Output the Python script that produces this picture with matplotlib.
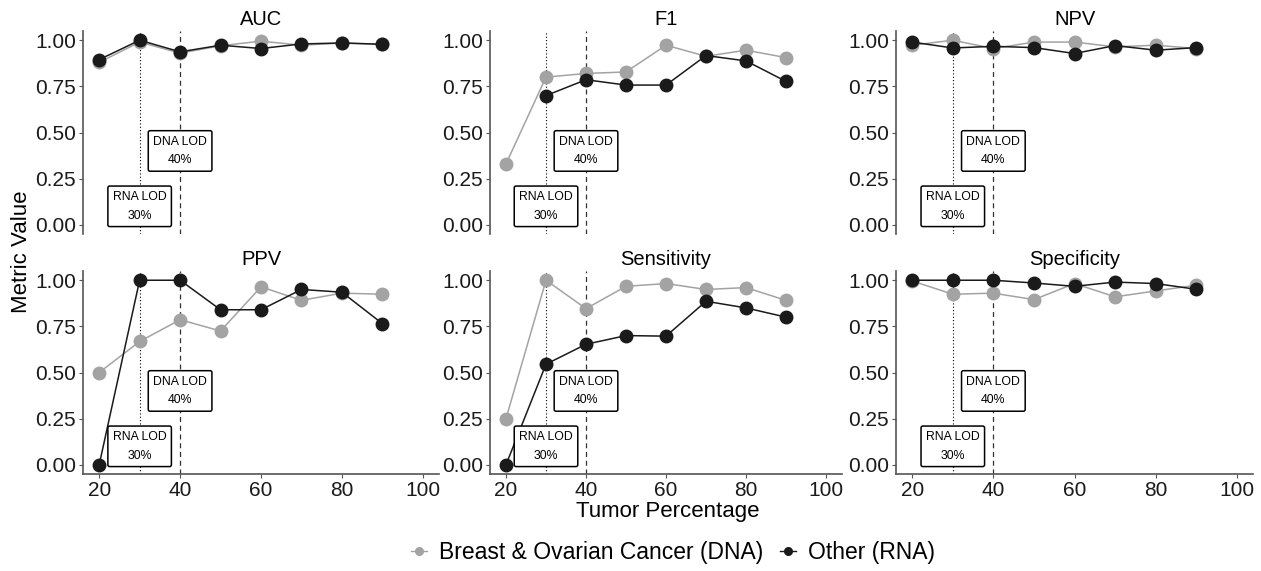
import matplotlib
matplotlib.use('Agg')
import matplotlib.pyplot as plt
from matplotlib.lines import Line2D

plt.rcParams['font.family'] = ['Liberation Sans', 'DejaVu Sans']

tumor_pct = [20, 30, 40, 50, 60, 70, 80, 90]
metrics = ["AUC", "F1", "NPV", "PPV", "Sensitivity", "Specificity"]

# Breast & Ovarian Cancer (DNA)
dna_auc = [0.88, 0.99, 0.93, 0.97, 0.995, 0.973, 0.985, 0.978]
dna_f1 = [0.33, 0.80, 0.82, 0.828, 0.973, 0.913, 0.946, 0.906]
dna_npv = [0.973, 1.0, 0.955, 0.99, 0.99, 0.964, 0.973, 0.955]
dna_ppv = [0.50, 0.668, 0.786, 0.725, 0.964, 0.891, 0.93, 0.924]
dna_sens = [0.25, 1.0, 0.846, 0.967, 0.982, 0.95, 0.96, 0.891]
dna_spec = [0.996, 0.924, 0.93, 0.895, 0.982, 0.91, 0.942, 0.973]

# Other (RNA); F1 has no value at 20%
rna_auc = [0.895, 1.0, 0.937, 0.973, 0.955, 0.98, 0.985, 0.978]
rna_f1 = [None, 0.70, 0.786, 0.757, 0.757, 0.917, 0.888, 0.777]
rna_npv = [0.99, 0.958, 0.967, 0.96, 0.928, 0.971, 0.946, 0.96]
rna_ppv = [0.0, 1.0, 1.0, 0.84, 0.84, 0.95, 0.935, 0.765]
rna_sens = [0.0, 0.545, 0.653, 0.70, 0.697, 0.886, 0.85, 0.80]
rna_spec = [1.0, 1.0, 1.0, 0.985, 0.967, 0.99, 0.982, 0.951]

dna_values = [dna_auc, dna_f1, dna_npv, dna_ppv, dna_sens, dna_spec]
rna_values = [rna_auc, rna_f1, rna_npv, rna_ppv, rna_sens, rna_spec]

rna_lod = 30
dna_lod = 40

gray = '#a3a3a3'
black = '#1a1a1a'
W, H = 1261, 571

fig = plt.figure(figsize=(W / 100, H / 100), dpi=100)

col_x = [(83, 439), (490, 842), (896, 1253)]
row_y = [(31, 234), (271, 474)]

for i, name in enumerate(metrics):
    r, c = divmod(i, 3)
    x0, x1 = col_x[c]
    y0, y1 = row_y[r]
    ax = fig.add_axes([x0 / W, 1 - y1 / H, (x1 - x0) / W, (y1 - y0) / H])

    ax.axvline(rna_lod, color='black', linestyle=(0, (1, 2)), linewidth=0.8, zorder=1)
    ax.axvline(dna_lod, color='#333333', linestyle=(0, (4, 3)), linewidth=0.9, zorder=1)

    xs = [x for x, v in zip(tumor_pct, dna_values[i]) if v is not None]
    ys = [v for v in dna_values[i] if v is not None]
    ax.plot(xs, ys, color=gray, marker='o', markersize=9, linewidth=1.1, zorder=3)
    xs = [x for x, v in zip(tumor_pct, rna_values[i]) if v is not None]
    ys = [v for v in rna_values[i] if v is not None]
    ax.plot(xs, ys, color=black, marker='o', markersize=9, linewidth=1.1, zorder=4)

    box = dict(boxstyle='round,pad=0.4,rounding_size=0.15', facecolor='white',
               edgecolor='black', linewidth=1.1)
    ax.text(dna_lod, 0.40, "DNA LOD\n40%", ha='center', va='center', fontsize=8.8,
            linespacing=1.75, bbox=box, zorder=5)
    ax.text(rna_lod, 0.10, "RNA LOD\n30%", ha='center', va='center', fontsize=8.8,
            linespacing=1.75, bbox=box, zorder=5)

    ax.set_xlim(16, 104)
    ax.set_ylim(-0.05, 1.05)
    ax.set_yticks([0, 0.25, 0.5, 0.75, 1.0])
    ax.set_yticklabels(["0.00", "0.25", "0.50", "0.75", "1.00"])
    ax.set_xticks([20, 40, 60, 80, 100])
    ax.set_title(name, fontsize=14.5, pad=4)

    for s in ['top', 'right']:
        ax.spines[s].set_visible(False)
    ax.spines['left'].set_color('#555555')
    ax.spines['bottom'].set_color('#555555')
    ax.spines['left'].set_linewidth(1.2)
    ax.spines['bottom'].set_linewidth(1.2)
    ax.tick_params(axis='both', labelsize=15, color='#555555', length=3, width=0.8,
                   labelcolor='#1a1a1a', pad=2)
    if r == 0:
        ax.spines['bottom'].set_visible(False)
        ax.tick_params(axis='x', bottom=False, labelbottom=False)

fig.text(22 / W, 1 - 252 / H, "Metric Value", rotation=90, ha='center', va='center', fontsize=16)
fig.text(668 / W, 1 - 512 / H, "Tumor Percentage", ha='center', va='center', fontsize=16)

handles = [
    Line2D([], [], color=gray, marker='o', markersize=5.5, linewidth=1.0),
    Line2D([], [], color=black, marker='o', markersize=5.5, linewidth=1.0),
]
fig.legend(handles, ["Breast & Ovarian Cancer (DNA)", "Other (RNA)"],
           loc='center', bbox_to_anchor=(673 / W, 1 - 553 / H), ncol=2, frameon=False,
           fontsize=16.5, handlelength=0.7, handletextpad=0.55, columnspacing=0.7)

fig.savefig("out.png", dpi=100)
